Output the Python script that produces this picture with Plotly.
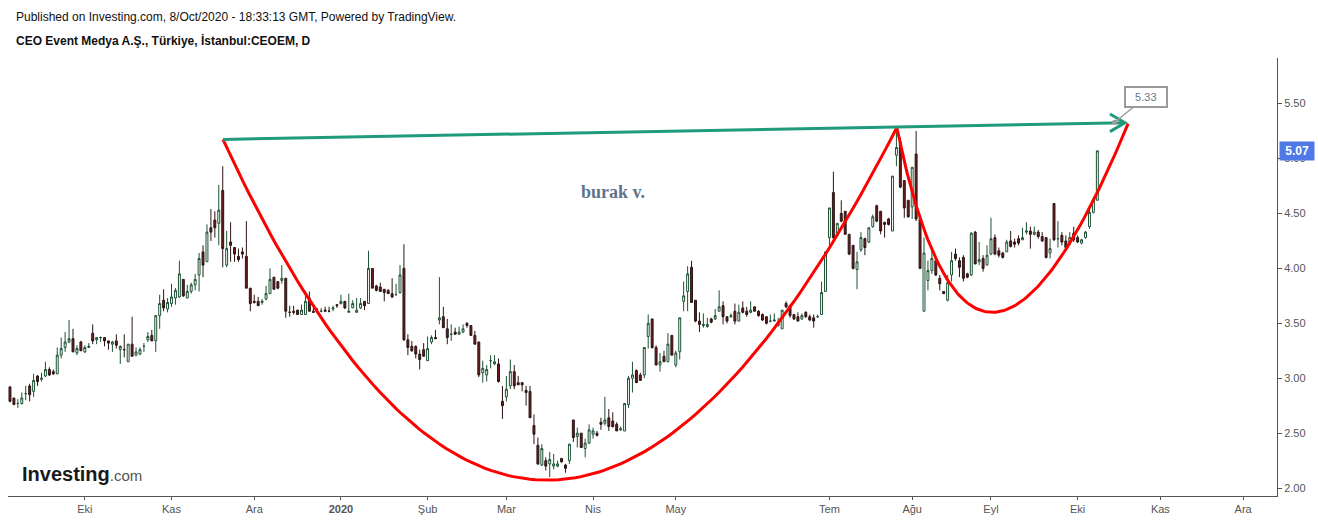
import numpy as np
import pandas as pd
import plotly.graph_objects as go

# Daily candles CEOEM, 4 Sep 2019 .. 8 Oct 2020
open_ = [2.92, 2.82, 2.77, 2.77, 2.86, 2.93, 2.88, 3.02, 2.99, 3.02,
         3.08, 3.06, 3.04, 3.21, 3.28, 3.33, 3.36, 3.23, 3.33, 3.24,
         3.28, 3.41, 3.35, 3.37, 3.37, 3.34, 3.31, 3.34, 3.26, 3.26,
         3.15, 3.31, 3.21, 3.22, 3.29, 3.35, 3.39, 3.34, 3.57, 3.71,
         3.63, 3.68, 3.73, 3.74, 3.90, 3.73, 3.79, 3.85, 3.94, 4.15,
         4.06, 4.37, 4.44, 4.41, 4.71, 4.03, 4.24, 4.19, 4.11, 4.15,
         4.11, 3.82, 3.70, 3.70, 3.69, 3.72, 3.77, 3.92, 3.88, 3.89,
         3.91, 3.60, 3.61, 3.62, 3.58, 3.58, 3.73, 3.61, 3.60, 3.61,
         3.62, 3.61, 3.63, 3.67, 3.68, 3.70, 3.60, 3.64, 3.60, 3.64,
         3.70, 3.68, 4.00, 3.84, 3.83, 3.81, 3.80, 3.77, 3.76, 3.78,
         4.00, 3.35, 3.29, 3.29, 3.22, 3.26, 3.16, 3.33, 3.37, 3.53,
         3.56, 3.45, 3.40, 3.42, 3.40, 3.42, 3.50, 3.48, 3.39, 3.33,
         3.05, 3.03, 3.16, 3.13, 3.13, 2.79, 2.83, 2.93, 3.06, 2.96,
         2.96, 2.89, 2.88, 2.57, 2.39, 2.21, 2.25, 2.22, 2.20, 2.20,
         2.27, 2.21, 2.25, 2.62, 2.47, 2.50, 2.36, 2.41, 2.49, 2.50,
         2.60, 2.59, 2.64, 2.61, 2.58, 2.53, 2.52, 2.76, 3.00, 3.07,
         3.03, 3.03, 3.38, 3.54, 3.28, 3.12, 3.20, 3.15, 3.39, 3.12,
         3.24, 3.70, 3.79, 4.01, 3.71, 3.52, 3.48, 3.47, 3.54, 3.54,
         3.61, 3.66, 3.56, 3.56, 3.61, 3.52, 3.64, 3.61, 3.60, 3.65,
         3.61, 3.58, 3.56, 3.52, 3.52, 3.48, 3.45, 3.68, 3.66, 3.58,
         3.56, 3.54, 3.60, 3.56, 3.55, 3.56, 3.58, 3.79, 4.28, 4.69,
         4.30, 4.50, 4.52, 4.31, 4.21, 3.99, 4.17, 4.27, 4.24, 4.38,
         4.57, 4.52, 4.42, 4.45, 4.34, 5.03, 5.15, 4.80, 4.62, 4.56,
         5.04, 4.45, 3.61, 3.89, 3.98, 4.07, 3.91, 3.79, 3.71, 3.94,
         4.13, 4.07, 4.10, 3.95, 3.94, 4.33, 4.06, 4.09, 4.03, 4.13,
         4.28, 4.16, 4.14, 4.15, 4.25, 4.24, 4.27, 4.26, 4.33, 4.34,
         4.31, 4.33, 4.29, 4.28, 4.14, 4.59, 4.27, 4.30, 4.25, 4.24,
         4.32, 4.28, 4.23, 4.28, 4.38, 4.51, 4.62]
high = [2.93, 2.82, 2.81, 2.87, 2.93, 2.95, 3.04, 3.03, 3.05, 3.15,
        3.10, 3.08, 3.28, 3.37, 3.42, 3.53, 3.45, 3.30, 3.34, 3.30,
        3.32, 3.49, 3.37, 3.38, 3.37, 3.34, 3.34, 3.40, 3.30, 3.40,
        3.31, 3.56, 3.28, 3.28, 3.32, 3.42, 3.44, 3.57, 3.76, 3.81,
        3.73, 3.86, 3.82, 4.07, 3.90, 3.85, 3.87, 3.95, 4.14, 4.21,
        4.40, 4.54, 4.52, 4.76, 4.93, 4.34, 4.42, 4.19, 4.18, 4.19,
        4.43, 3.82, 3.76, 3.74, 3.72, 3.84, 4.00, 3.92, 3.88, 4.03,
        3.91, 3.66, 3.66, 3.62, 3.67, 3.79, 3.79, 3.64, 3.64, 3.64,
        3.65, 3.65, 3.66, 3.67, 3.76, 3.70, 3.77, 3.71, 3.73, 3.73,
        3.70, 4.16, 4.00, 3.85, 3.87, 3.81, 3.81, 3.91, 3.86, 4.03,
        4.22, 3.40, 3.34, 3.30, 3.26, 3.32, 3.38, 3.39, 3.44, 3.92,
        3.65, 3.54, 3.49, 3.46, 3.47, 3.49, 3.51, 3.48, 3.43, 3.33,
        3.16, 3.12, 3.21, 3.21, 3.18, 2.93, 3.02, 3.17, 3.12, 3.02,
        2.96, 2.93, 2.93, 2.67, 2.46, 2.40, 2.28, 2.33, 2.31, 2.25,
        2.27, 2.22, 2.40, 2.62, 2.55, 2.50, 2.45, 2.58, 2.55, 2.52,
        2.64, 2.83, 2.72, 2.69, 2.60, 2.56, 2.77, 3.02, 3.15, 3.08,
        3.05, 3.28, 3.58, 3.54, 3.30, 3.23, 3.25, 3.41, 3.39, 3.25,
        3.55, 3.88, 4.02, 4.07, 3.71, 3.60, 3.59, 3.55, 3.55, 3.63,
        3.80, 3.70, 3.56, 3.59, 3.68, 3.67, 3.70, 3.65, 3.70, 3.65,
        3.62, 3.59, 3.56, 3.58, 3.59, 3.55, 3.62, 3.70, 3.67, 3.58,
        3.60, 3.59, 3.61, 3.58, 3.58, 3.58, 3.88, 4.15, 4.55, 4.88,
        4.41, 4.62, 4.52, 4.31, 4.21, 4.15, 4.33, 4.28, 4.37, 4.49,
        4.58, 4.52, 4.42, 4.46, 4.84, 5.28, 5.19, 4.80, 4.62, 4.92,
        5.25, 4.45, 4.28, 4.07, 4.16, 4.07, 3.94, 3.79, 3.94, 4.15,
        4.18, 4.10, 4.12, 3.96, 4.33, 4.34, 4.24, 4.12, 4.21, 4.46,
        4.31, 4.19, 4.15, 4.26, 4.34, 4.27, 4.30, 4.37, 4.42, 4.38,
        4.38, 4.35, 4.33, 4.28, 4.27, 4.59, 4.43, 4.33, 4.30, 4.33,
        4.38, 4.30, 4.27, 4.34, 4.55, 4.65, 5.07]
low = [2.78, 2.76, 2.73, 2.76, 2.80, 2.79, 2.83, 2.93, 2.97, 3.01,
       3.02, 3.03, 3.04, 3.18, 3.24, 3.32, 3.24, 3.21, 3.25, 3.23,
       3.28, 3.31, 3.31, 3.33, 3.29, 3.26, 3.24, 3.27, 3.13, 3.19,
       3.15, 3.20, 3.20, 3.21, 3.24, 3.33, 3.34, 3.24, 3.45, 3.61,
       3.60, 3.65, 3.67, 3.73, 3.74, 3.73, 3.77, 3.80, 3.79, 3.92,
       4.06, 4.25, 4.28, 4.21, 4.01, 4.01, 4.06, 4.06, 4.06, 4.09,
       3.82, 3.61, 3.68, 3.66, 3.67, 3.71, 3.77, 3.81, 3.81, 3.86,
       3.55, 3.56, 3.58, 3.58, 3.58, 3.58, 3.61, 3.60, 3.59, 3.60,
       3.61, 3.60, 3.61, 3.64, 3.67, 3.63, 3.60, 3.64, 3.60, 3.63,
       3.62, 3.68, 3.82, 3.79, 3.79, 3.70, 3.77, 3.73, 3.76, 3.77,
       3.34, 3.21, 3.24, 3.18, 3.08, 3.20, 3.16, 3.31, 3.36, 3.49,
       3.46, 3.31, 3.34, 3.40, 3.40, 3.41, 3.46, 3.39, 3.31, 3.01,
       2.96, 2.97, 3.09, 3.12, 2.96, 2.63, 2.79, 2.90, 2.90, 2.94,
       2.88, 2.75, 2.64, 2.40, 2.21, 2.20, 2.16, 2.10, 2.17, 2.19,
       2.23, 2.14, 2.22, 2.42, 2.37, 2.37, 2.28, 2.40, 2.45, 2.47,
       2.53, 2.57, 2.52, 2.55, 2.52, 2.52, 2.52, 2.73, 2.87, 2.96,
       2.98, 3.00, 3.27, 3.27, 3.12, 3.06, 3.15, 3.15, 3.21, 3.10,
       3.17, 3.61, 3.61, 3.69, 3.51, 3.42, 3.46, 3.46, 3.50, 3.53,
       3.61, 3.49, 3.50, 3.55, 3.49, 3.52, 3.59, 3.56, 3.59, 3.61,
       3.56, 3.52, 3.49, 3.51, 3.52, 3.47, 3.45, 3.64, 3.55, 3.53,
       3.52, 3.53, 3.55, 3.52, 3.46, 3.55, 3.58, 3.79, 4.18, 4.25,
       4.29, 4.42, 4.31, 4.12, 3.99, 3.81, 4.15, 4.12, 4.23, 4.37,
       4.42, 4.31, 4.28, 4.39, 4.34, 4.93, 4.73, 4.46, 4.46, 4.45,
       4.43, 4.00, 3.61, 3.80, 3.95, 3.93, 3.80, 3.77, 3.70, 3.88,
       4.07, 3.92, 3.88, 3.91, 3.93, 4.04, 4.03, 3.97, 4.03, 4.12,
       4.12, 4.10, 4.09, 4.15, 4.19, 4.19, 4.21, 4.26, 4.31, 4.18,
       4.30, 4.27, 4.24, 4.09, 4.09, 4.25, 4.19, 4.21, 4.16, 4.21,
       4.24, 4.23, 4.22, 4.27, 4.36, 4.50, 4.62]
close = [2.79, 2.76, 2.77, 2.82, 2.86, 2.85, 2.98, 2.97, 3.00, 3.08,
         3.03, 3.04, 3.21, 3.27, 3.33, 3.36, 3.24, 3.27, 3.25, 3.28,
         3.29, 3.34, 3.37, 3.37, 3.34, 3.32, 3.33, 3.30, 3.29, 3.26,
         3.31, 3.20, 3.24, 3.26, 3.29, 3.38, 3.34, 3.57, 3.68, 3.64,
         3.69, 3.74, 3.80, 3.95, 3.75, 3.79, 3.85, 3.90, 4.09, 4.03,
         4.33, 4.33, 4.37, 4.53, 4.18, 4.18, 4.21, 4.13, 4.08, 4.13,
         3.82, 3.68, 3.69, 3.66, 3.70, 3.77, 3.90, 3.81, 3.82, 3.91,
         3.61, 3.60, 3.60, 3.58, 3.62, 3.70, 3.61, 3.60, 3.60, 3.61,
         3.61, 3.61, 3.64, 3.66, 3.70, 3.64, 3.61, 3.68, 3.62, 3.68,
         3.66, 4.00, 3.82, 3.80, 3.79, 3.78, 3.77, 3.74, 3.76, 3.94,
         3.35, 3.28, 3.25, 3.22, 3.17, 3.20, 3.27, 3.37, 3.36, 3.55,
         3.46, 3.37, 3.40, 3.40, 3.42, 3.45, 3.48, 3.39, 3.31, 3.03,
         3.09, 3.08, 3.16, 3.15, 2.97, 2.75, 2.90, 3.06, 2.93, 2.94,
         2.94, 2.87, 2.64, 2.49, 2.22, 2.36, 2.20, 2.26, 2.22, 2.22,
         2.24, 2.18, 2.40, 2.46, 2.50, 2.37, 2.41, 2.53, 2.52, 2.48,
         2.58, 2.62, 2.56, 2.56, 2.52, 2.54, 2.77, 3.00, 3.03, 2.96,
         2.98, 3.28, 3.50, 3.28, 3.12, 3.15, 3.15, 3.31, 3.21, 3.23,
         3.55, 3.75, 3.95, 3.69, 3.52, 3.49, 3.49, 3.49, 3.51, 3.57,
         3.65, 3.56, 3.52, 3.57, 3.52, 3.60, 3.60, 3.58, 3.62, 3.61,
         3.57, 3.53, 3.50, 3.52, 3.53, 3.51, 3.62, 3.65, 3.57, 3.54,
         3.52, 3.57, 3.56, 3.53, 3.52, 3.56, 3.78, 4.15, 4.55, 4.28,
         4.41, 4.43, 4.31, 4.13, 4.00, 4.06, 4.28, 4.19, 4.37, 4.47,
         4.43, 4.34, 4.40, 4.40, 4.84, 5.10, 4.74, 4.55, 4.47, 4.92,
         4.45, 4.00, 4.14, 3.98, 4.09, 3.94, 3.86, 3.77, 3.87, 4.07,
         4.09, 4.01, 3.91, 3.92, 4.32, 4.04, 4.08, 4.00, 4.12, 4.27,
         4.13, 4.12, 4.10, 4.24, 4.20, 4.22, 4.23, 4.28, 4.34, 4.31,
         4.33, 4.29, 4.25, 4.10, 4.18, 4.26, 4.27, 4.24, 4.19, 4.28,
         4.26, 4.24, 4.26, 4.33, 4.51, 4.62, 5.07]

# Borsa Istanbul closed days in the period
holidays = ['2019-10-29', '2020-01-01', '2020-04-23', '2020-05-01', '2020-05-19',
            '2020-05-25', '2020-05-26', '2020-07-15', '2020-07-31', '2020-08-03',
            '2020-10-29']

tick_months = ['2019-10', '2019-11', '2019-12', '2020-01', '2020-02', '2020-03', '2020-04',
               '2020-05', '2020-07', '2020-08', '2020-09', '2020-10', '2020-11', '2020-12']
tick_labels = ['Eki', 'Kas', 'Ara', '<b>2020</b>', 'Şub', 'Mar', 'Nis',
               'May', 'Tem', 'Ağu', 'Eyl', 'Eki', 'Kas', 'Ara']

# drawings (bar index, price)
rim_pts = [(54.06, 5.174), (283.0, 5.325)]
cup_pts = [(54.06, 5.174), (134.5, -1.083), (225.1, 5.282)]
handle_pts = [(225.1, 5.282), (244.5, 1.90), (283.8, 5.318)]
note_pt = (280.4, 5.33)
note_text = '5.33'
last_price = 5.07

days = pd.bdate_range('2019-09-04', '2020-12-31', freq='C', holidays=holidays)
x = np.arange(len(close))
month_key = days.strftime('%Y-%m')
tick_vals = [int(np.argmax(month_key == m)) for m in tick_months]


def bezier(p, n=120):
    t = np.linspace(0, 1, n)
    xs = (1 - t) ** 2 * p[0][0] + 2 * t * (1 - t) * p[1][0] + t ** 2 * p[2][0]
    ys = (1 - t) ** 2 * p[0][1] + 2 * t * (1 - t) * p[1][1] + t ** 2 * p[2][1]
    return xs, ys


fig = go.Figure()

fig.add_trace(go.Candlestick(
    x=x, open=open_, high=high, low=low, close=close,
    increasing=dict(line=dict(color='#1b5233', width=1), fillcolor='#ffffff'),
    decreasing=dict(line=dict(color='#2a1414', width=1), fillcolor='#6e1c1c'),
    hoverinfo='skip', showlegend=False,
))

# red cup and handle
for pts in (cup_pts, handle_pts):
    cx, cy = bezier(pts)
    fig.add_trace(go.Scatter(x=cx, y=cy, mode='lines', line=dict(color='#ff0000', width=3),
                             hoverinfo='skip', showlegend=False))

# green rim line with open arrow head
green = '#1f9a7c'
fig.add_trace(go.Scatter(x=[p[0] for p in rim_pts], y=[p[1] for p in rim_pts], mode='lines',
                         line=dict(color=green, width=3), hoverinfo='skip', showlegend=False))
tx, ty = rim_pts[1]
fig.add_trace(go.Scatter(x=[tx - 3.8, tx, tx - 3.8], y=[ty + 0.08, ty, ty - 0.08], mode='lines',
                         line=dict(color=green, width=3), hoverinfo='skip', showlegend=False))

# price note
fig.add_trace(go.Scatter(x=[note_pt[0]], y=[note_pt[1]], mode='markers',
                         marker=dict(color='#9a9a9a', size=5), hoverinfo='skip', showlegend=False))
fig.add_annotation(x=note_pt[0], y=note_pt[1], text='&nbsp;&nbsp;' + note_text + '&nbsp;&nbsp;',
                   showarrow=True, arrowhead=0,
                   arrowcolor='#9a9a9a', arrowwidth=1.5, ax=31, ay=-25,
                   bordercolor='#9a9a9a', borderwidth=2, borderpad=3, bgcolor='white',
                   font=dict(family='Liberation Sans', size=11, color='#6b7a8a'))

fig.add_annotation(x=153, y=4.694, text='<b>burak v.</b>', showarrow=False,
                   font=dict(family='Liberation Serif', size=18, color='#60738a'))

# last price tag on the axis (covers the 5.00 label as in the original)
fig.add_annotation(xref='paper', x=1.0016, y=last_price, xanchor='left', yanchor='middle',
                   text='<b>&nbsp;%.2f&nbsp;</b>' % last_price, showarrow=False, bgcolor='#4f79e6',
                   borderpad=2, font=dict(family='Liberation Sans', size=12, color='white'))

# header lines
fig.add_annotation(xref='paper', yref='paper', x=0.0047, y=1.093, xanchor='left', yanchor='middle',
                   text='Published on Investing.com, 8/Oct/2020 - 18:33:13 GMT, Powered by TradingView.',
                   showarrow=False, font=dict(family='Liberation Sans', size=12, color='#111111'))
fig.add_annotation(xref='paper', yref='paper', x=0.0047, y=1.041, xanchor='left', yanchor='middle',
                   text='<b>CEO Event Medya A.Ş., Türkiye, İstanbul:CEOEM, D</b>',
                   showarrow=False, font=dict(family='Liberation Sans', size=12, color='#111111'))

# watermark
fig.add_annotation(xref='paper', yref='paper', x=0.0095, y=0.05, xanchor='left', yanchor='middle',
                   text="<b>Investing</b><span style='font-size:15px;color:#555555'>.com</span>",
                   showarrow=False, font=dict(family='Liberation Sans', size=20, color='#1a1a1a'))

fig.update_layout(
    width=1318, height=523,
    margin=dict(l=8, r=41, t=58, b=24),
    plot_bgcolor='white', paper_bgcolor='white',
    showlegend=False,
    xaxis=dict(range=[-0.5, 321.6], rangeslider=dict(visible=False), showgrid=False, zeroline=False,
               tickmode='array', tickvals=tick_vals, ticktext=tick_labels,
               ticks='outside', ticklen=3, tickcolor='#555555',
               showline=True, linecolor='#555555', linewidth=1,
               tickfont=dict(family='Liberation Sans', size=11, color='#555555')),
    yaxis=dict(range=[1.928, 5.915], side='right', showgrid=False, zeroline=False,
               tickmode='linear', tick0=2.0, dtick=0.5, tickformat='.2f',
               ticks='outside', ticklen=4, tickcolor='#555555',
               showline=True, linecolor='#555555', linewidth=1,
               tickfont=dict(family='Liberation Sans', size=11, color='#555555')),
)

fig.write_html("out.html", config={'displayModeBar': False},
               post_script="document.body.style.margin='0';document.body.style.overflow='hidden';")
